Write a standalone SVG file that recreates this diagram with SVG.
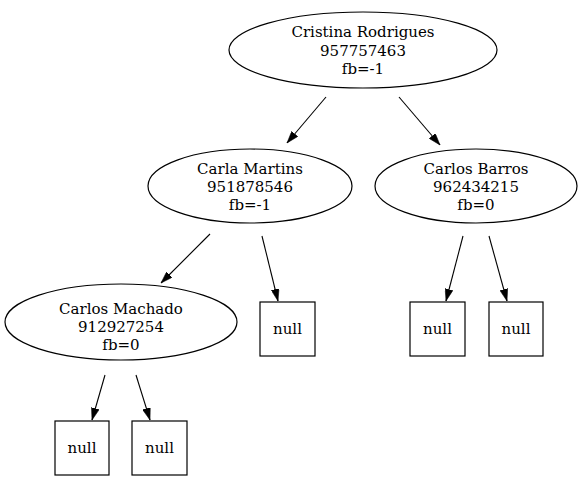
<svg xmlns="http://www.w3.org/2000/svg" width="583" height="481" viewBox="0 0 583 481">
<defs>
<marker id="ah" markerWidth="12" markerHeight="8" refX="12" refY="4" orient="auto" markerUnits="userSpaceOnUse">
<polygon points="0,0 12,4 0,8" fill="#000" stroke="#000" stroke-width="0.5"/>
</marker>
<style>
.n{fill:#fff;stroke:#000;stroke-width:1.2}
.t{font-family:"DejaVu Serif","Liberation Serif",serif;font-size:15px;text-anchor:middle;fill:#000}
.e{stroke:#000;stroke-width:1.1;fill:none;marker-end:url(#ah)}
</style>
</defs>
<rect width="583" height="481" fill="#fff"/>
<g id="edges">
<line class="e" x1="326" y1="97" x2="287" y2="143"/>
<line class="e" x1="399" y1="97" x2="440" y2="145"/>
<line class="e" x1="210" y1="234" x2="161" y2="283"/>
<line class="e" x1="262" y1="236" x2="278" y2="301"/>
<line class="e" x1="463" y1="236" x2="446" y2="301"/>
<line class="e" x1="489" y1="236" x2="507" y2="301"/>
<line class="e" x1="105" y1="375" x2="92" y2="420"/>
<line class="e" x1="136" y1="375" x2="150" y2="420"/>
</g>
<g id="root">
<ellipse class="n" cx="363" cy="50" rx="134" ry="38"/>
<text class="t" x="363" y="37">Cristina Rodrigues</text>
<text class="t" x="363" y="56">957757463</text>
<text class="t" x="363" y="74">fb=-1</text>
</g>
<g id="carla">
<ellipse class="n" cx="250" cy="186" rx="102" ry="37"/>
<text class="t" x="250" y="174">Carla Martins</text>
<text class="t" x="250" y="192">951878546</text>
<text class="t" x="250" y="210">fb=-1</text>
</g>
<g id="barros">
<ellipse class="n" cx="476" cy="186" rx="101" ry="37"/>
<text class="t" x="476" y="174">Carlos Barros</text>
<text class="t" x="476" y="192">962434215</text>
<text class="t" x="476" y="210">fb=0</text>
</g>
<g id="machado">
<ellipse class="n" cx="121" cy="322" rx="116" ry="38"/>
<text class="t" x="121" y="314">Carlos Machado</text>
<text class="t" x="121" y="332">912927254</text>
<text class="t" x="121" y="350">fb=0</text>
</g>
<g id="null1"><rect class="n" x="260" y="302" width="55" height="54"/><text class="t" x="287.5" y="334">null</text></g>
<g id="null2"><rect class="n" x="410" y="302" width="55" height="54"/><text class="t" x="437.5" y="334">null</text></g>
<g id="null3"><rect class="n" x="489" y="302" width="54" height="54"/><text class="t" x="516" y="334">null</text></g>
<g id="null4"><rect class="n" x="55" y="421" width="54" height="54"/><text class="t" x="82" y="453">null</text></g>
<g id="null5"><rect class="n" x="132" y="421" width="55" height="54"/><text class="t" x="159.5" y="453">null</text></g>
</svg>
